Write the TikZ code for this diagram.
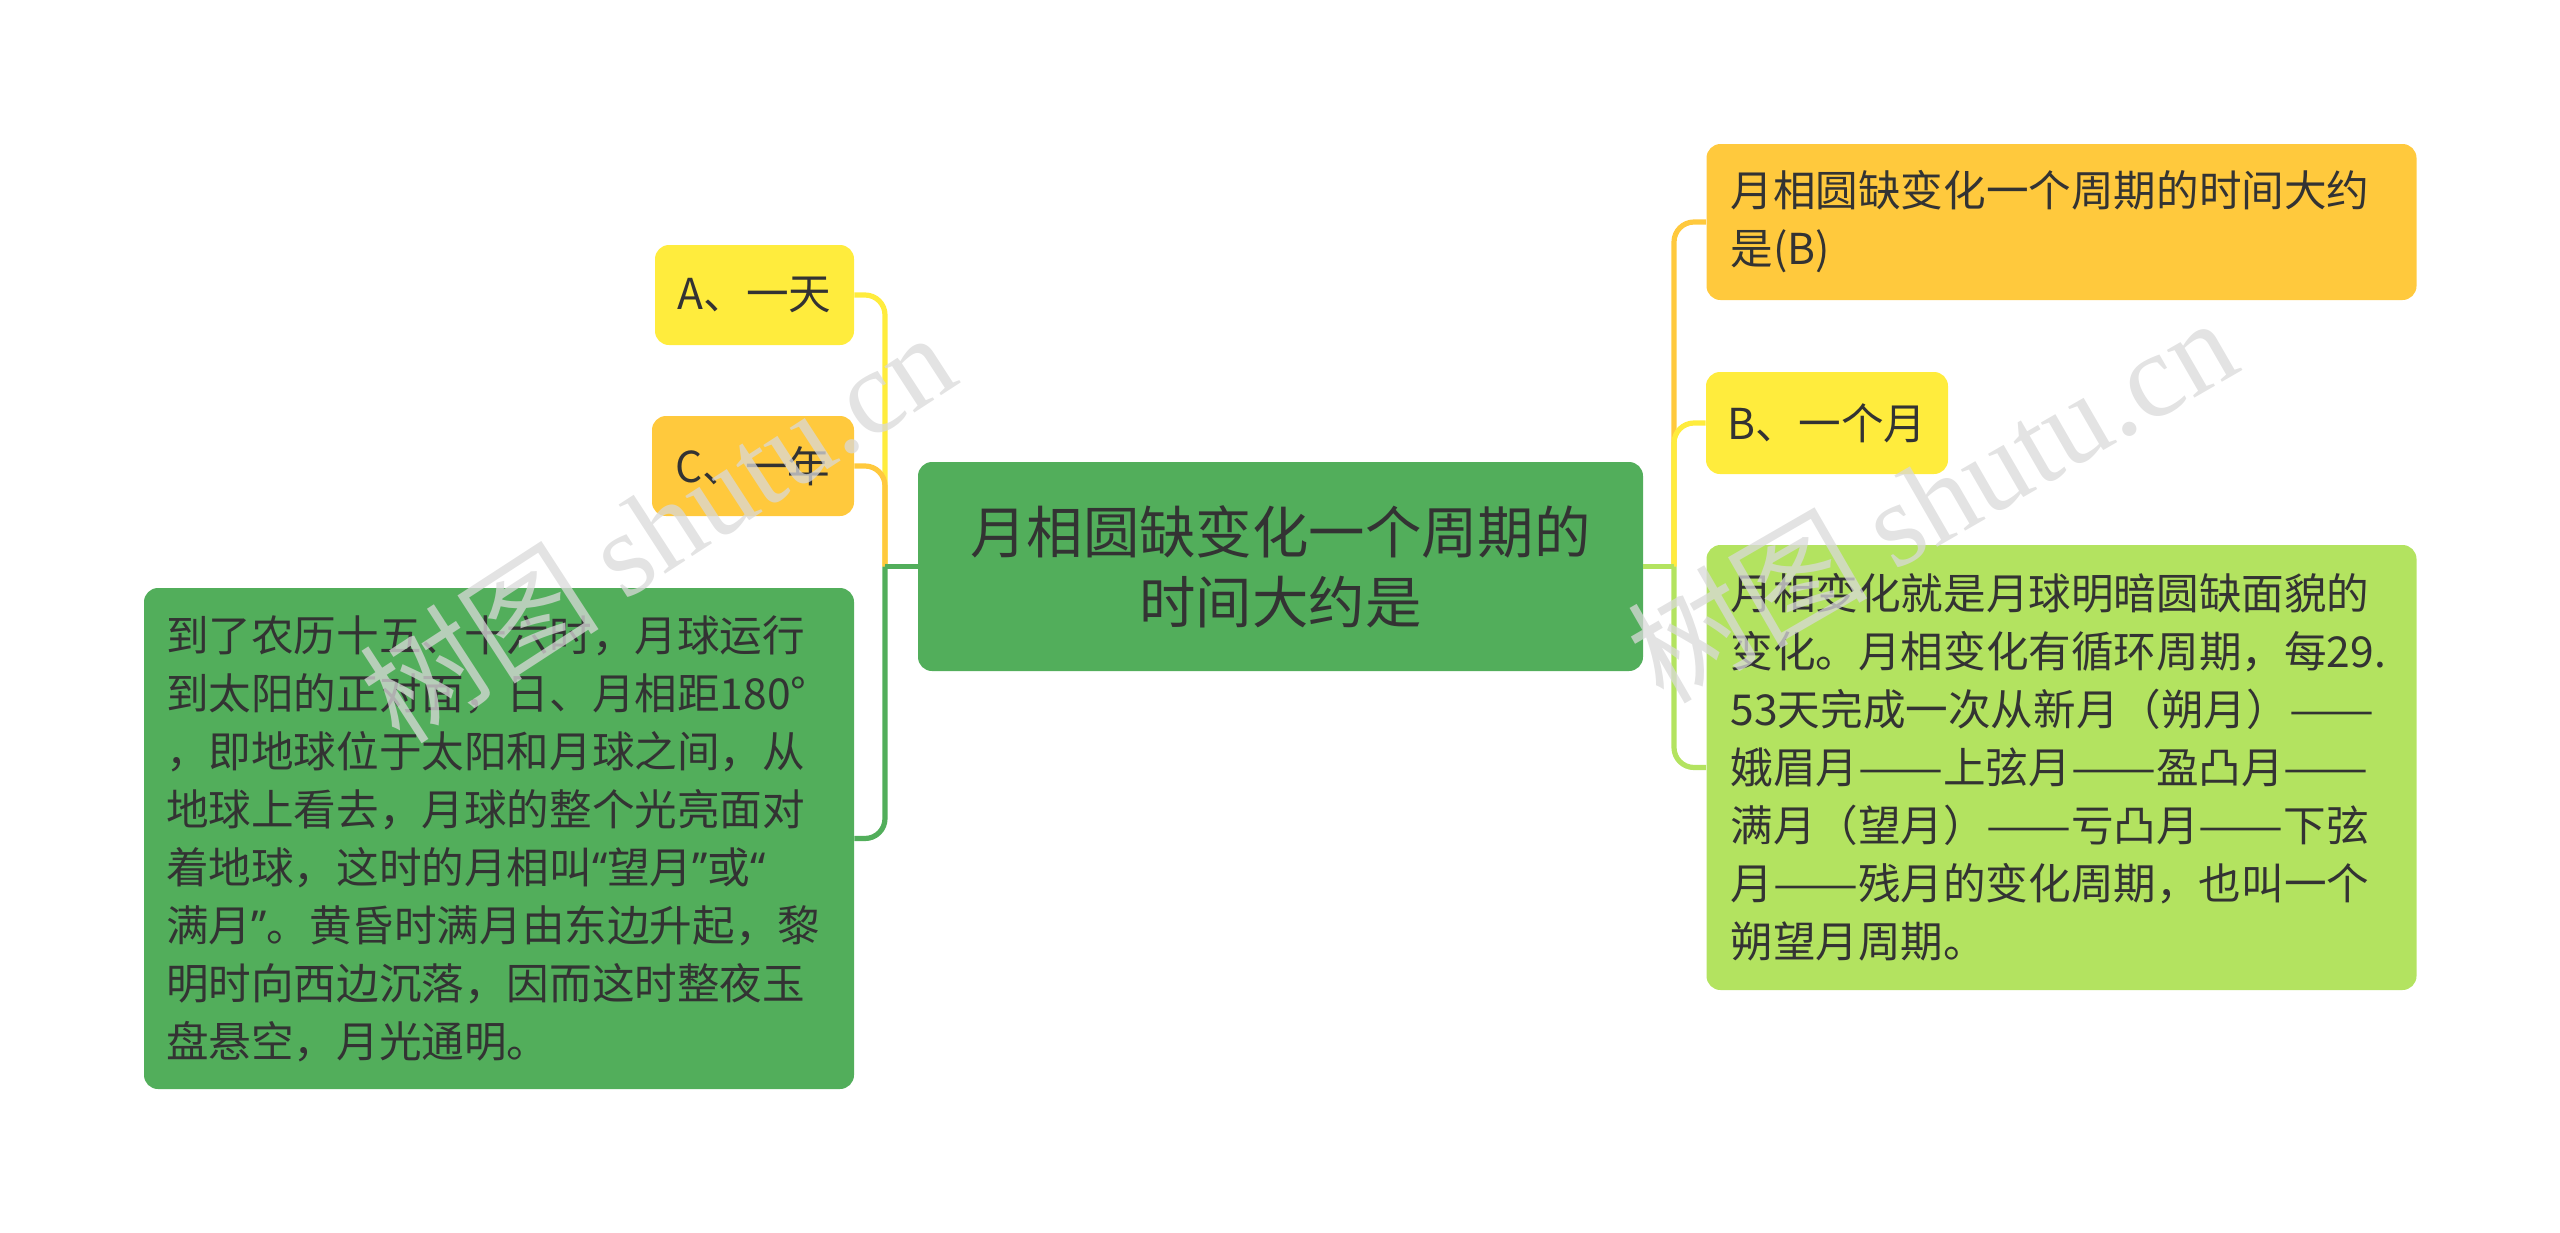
\documentclass[tikz,border=0pt]{standalone}
\usepackage{fontspec}
\usepackage{graphicx}
\setmainfont{Noto Sans CJK SC}
\newfontfamily\wmfont{Liberation Serif}
\newfontfamily\qfont{Noto Sans}
\usetikzlibrary{positioning}

\definecolor{mgreen}{HTML}{52AE5B}
\definecolor{myellow}{HTML}{FFEC3D}
\definecolor{morange}{HTML}{FFC93D}
\definecolor{mlime}{HTML}{B3E360}
\definecolor{mtext}{HTML}{333333}

% wide dash pair and narrow quotes
\newcommand{\ldash}{\scalebox{1.19}[1]{——}}
\newcommand{\oq}{{\qfont “}}
\newcommand{\cq}{{\qfont ”}}

\begin{document}
\begin{tikzpicture}[x=0.5pt, y=-0.5pt,
    box/.style={rounded corners=7pt, text=mtext, inner sep=0pt,
      font=\fontsize{21.3}{29}\selectfont},
    note/.style={box, align=left, text width=331pt, inner xsep=12pt},
    link/.style={line width=2.6pt, rounded corners=10pt},
    wmark/.style={text=gray!30, opacity=0.75, font=\fontsize{60}{60}\selectfont},
  ]
    \useasboundingbox (0,0) rectangle (2560,1232);

    % central topic
    \node[box, fill=mgreen, minimum width=362.5pt, minimum height=104.5pt, align=center,
      font=\fontsize{28.2}{35}\selectfont] (topic) at (1280.5,566.5)
      {月相圆缺变化一个周期的\\时间大约是};

    % left side
    \node[box, fill=myellow, minimum width=99.5pt, minimum height=50pt] (optA) at (754.5,295) {A、一天};
    \node[box, fill=morange, minimum width=101pt, minimum height=50pt] (optC) at (753,466) {C、一年};
    \node[note, fill=mgreen, text width=333pt, inner xsep=11pt, minimum height=250.5pt] (full) at (499,838.5)
      {到了农历十五、十六时，月球运行\\到太阳的正对面，日、月相距180°\\，即地球位于太阳和月球之间，从\\地球上看去，月球的整个光亮面对\\着地球，这时的月相叫\oq 望月\cq 或\oq\\满月\cq。黄昏时满月由东边升起，黎\\明时向西边沉落，因而这时整夜玉\\盘悬空，月光通明。};

    % right side
    \node[note, fill=morange, minimum height=78pt] (answer) at (2061.5,222)
      {月相圆缺变化一个周期的时间大约\\是(B)};
    \node[box, fill=myellow, minimum width=121pt, minimum height=51pt] (optB) at (1827,423) {B、一个月};
    \node[note, fill=mlime, minimum height=222.5pt] (phase) at (2061.5,767.5)
      {月相变化就是月球明暗圆缺面貌的\\变化。月相变化有循环周期，每29.\\53天完成一次从新月（朔月）\ldash\\娥眉月\ldash 上弦月\ldash 盈凸月\ldash\\满月（望月）\ldash 亏凸月\ldash 下弦\\月\ldash 残月的变化周期，也叫一个\\朔望月周期。};

    % connectors
    \coordinate (jl) at (885,566.5);
    \coordinate (jr) at (1674,566.5);
    \foreach \n/\c in {optA/myellow, optC/morange, full/mgreen}
        \draw[link, \c] (jl) |- (\n.east);
    \draw[link, mgreen] (topic.west) -- (jl);
    \foreach \n/\c in {answer/morange, optB/myellow, phase/mlime}
        \draw[link, \c] (jr) |- (\n.west);
    \draw[link, mlime] (topic.east) -- (jr);

    % watermarks
    \node[wmark, rotate=33] (wmleft) at (657,526) {树图 {\wmfont shutu.cn}};
    \node[wmark, rotate=30] (wmright) at (1931,498) {树图 {\wmfont shutu.cn}};
\end{tikzpicture}
\end{document}
